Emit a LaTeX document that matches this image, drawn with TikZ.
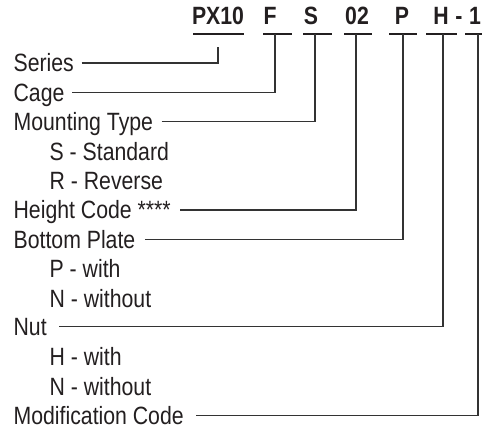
\documentclass[tikz,border=0pt]{standalone}
\usepackage{fontspec}
\setmainfont[FakeStretch=0.85]{Liberation Sans}
\usetikzlibrary{calc}
\definecolor{ink}{HTML}{231F20}

\begin{document}
\begin{tikzpicture}
[
x=1pt, y=-1pt, line width=1.3pt, ink,
font=\fontsize{25}{30}\selectfont,
code/.style    = {anchor=base, inner sep=0pt, font=\fontsize{25}{30}\selectfont\bfseries},
bar/.style     = {line width=2pt},
wire/.style    = {line width=1.3pt, black!80},
item/.style    = {anchor=west, inner sep=0pt, text height=17.8pt, text depth=0pt},
]
\useasboundingbox (0,0) rectangle (485,429);

% part number
\node[code] (px)  at (218,24) {PX10};
\node[code] (f)   at (270,24) {F};
\node[code] (s)   at (311,24) {S};
\node[code] (n02) at (357,24) {02};
\node[code] (p)   at (402,24) {P};
\node[code] (h)   at (441,24) {H};
\node[code] (dash) at (459,24) {-};
\node[code] (one) at (475,24) {1};

\draw[bar] (193,34) -- (244,34);
\draw[bar] (263,34) -- (292,34);
\draw[bar] (303,34) -- (332,34);
\draw[bar] (344,34) -- (372,34);
\draw[bar] (389,34) -- (417,34);
\draw[bar] (426,34) -- (457,34);
\draw[bar] (465,34) -- (482,34);

\coordinate (tpx) at (218,47);
\coordinate (tf)  at (275,34);
\coordinate (ts)  at (315,34);
\coordinate (t02) at (356,34);
\coordinate (tp)  at (403,34);
\coordinate (th)  at (443,34);
\coordinate (t1)  at (478,34);

% descriptions
\node[item] (series)  at (13,63)    {Series};
\node[item] (cage)    at (13,92.4)  {Cage};
\node[item] (mount)   at (13,121.8) {Mounting Type};
\node[item] (mstd)    at (49,151.2) {S - Standard};
\node[item] (mrev)    at (49,180.6) {R - Reverse};
\node[item] (height)  at (13,210)   {Height Code ****};
\node[item] (bottom)  at (13,239.4) {Bottom Plate};
\node[item] (bwith)   at (49,268.8) {P - with};
\node[item] (bwo)     at (49,298.2) {N - without};
\node[item] (nut)     at (13,326.5) {Nut};
\node[item] (nwith)   at (49,357)   {H - with};
\node[item] (nwo)     at (49,386.4) {N - without};
\node[item] (modif)   at (13,415.8) {Modification Code};

\draw[wire] ([xshift=7pt]series.east) -| (tpx);
\draw[wire] ([xshift=7pt]cage.east)   -| (tf);
\draw[wire] ([xshift=8pt]mount.east)  -| (ts);
\draw[wire] ([xshift=9pt]height.east) -| (t02);
\draw[wire] ([xshift=9pt]bottom.east) -| (tp);
\draw[wire] ([xshift=12pt]nut.east)   -| (th);
\draw[wire] ([xshift=12pt]modif.east) -| (t1);
\end{tikzpicture}
\end{document}
